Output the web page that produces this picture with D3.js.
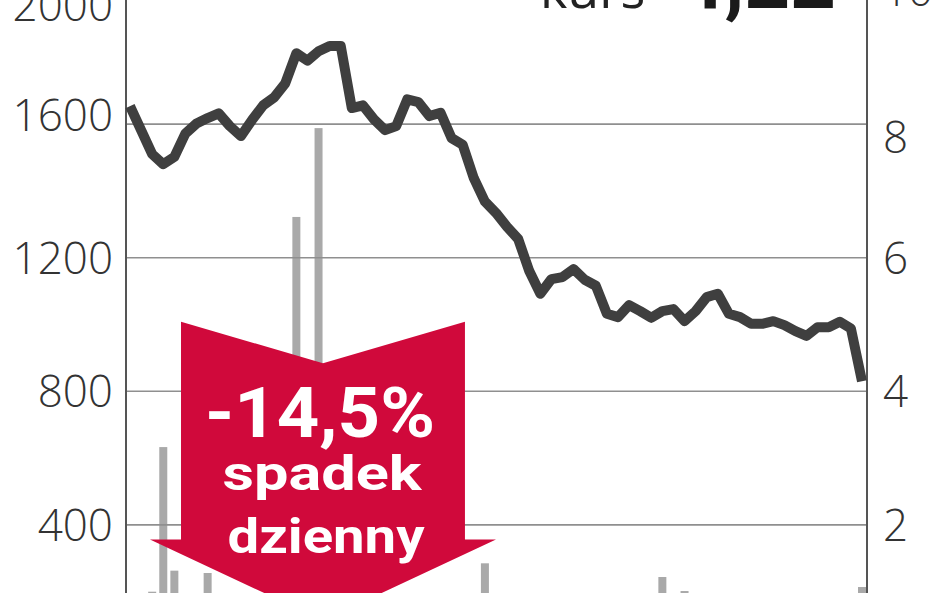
<!DOCTYPE html>
<html lang="pl">
<head>
    <meta charset="UTF-8">
    <title>Kurs i obroty</title>
    <script src="https://d3js.org/d3.v7.min.js"></script>
    <style>
        body { margin: 0; background: #fff; }
        svg { display: block; }
    </style>
</head>
<body>
<svg id="chart" width="948" height="593"></svg>

<script>
    // kurs (zl) - sesje od lewej do prawej
    const price = [
        8.27, 7.91, 7.55, 7.40, 7.51, 7.86, 8.01, 8.09, 8.16, 7.97,
        7.82, 8.06, 8.28, 8.40, 8.61, 9.06, 8.95, 9.09, 9.17, 9.17,
        8.24, 8.28, 8.07, 7.91, 7.97, 8.37, 8.33, 8.12, 8.17, 7.79,
        7.69, 7.19, 6.84, 6.67, 6.46, 6.28, 5.80, 5.46, 5.68, 5.71,
        5.83, 5.67, 5.58, 5.16, 5.11, 5.29, 5.20, 5.10, 5.20, 5.23,
        5.05, 5.20, 5.41, 5.46, 5.16, 5.11, 5.01, 5.01, 5.05, 4.99,
        4.90, 4.83, 4.96, 4.96, 5.04, 4.94, 4.15
    ];
    // obroty (tys. szt.)
    const volume = [
        120, 110, 200, 633, 263, 130, 120, 256, 110, 120,
        130, 120, 110, 140, 150, 1322, 160, 1588, 150, 140,
        130, 120, 110, 120, 130, 120, 110, 120, 130, 120,
        110, 120, 285, 130, 120, 110, 120, 130, 120, 110,
        120, 130, 120, 110, 120, 130, 120, 110, 244, 120,
        202, 110, 120, 130, 120, 110, 120, 130, 120, 110,
        120, 130, 120, 110, 120, 130, 214
    ];
    const volTicks = [400, 800, 1200, 1600, 2000];
    const priceTicks = [2, 4, 6, 8, 10];
    const title = "kurs";
    const lastPrice = "4,22";
    const badge = ["-14,5%", "spadek", "dzienny"];

    const H = 593;
    const plotLeft = 126, plotRight = 867;
    const svg = d3.select("#chart");

    const x = d3.scaleLinear().domain([0, price.length - 1]).range([130, 862]);
    const yVol = d3.scaleLinear().domain([0, 2000]).range([658.5, -9.5]);
    const yPrice = d3.scaleLinear().domain([0, 10]).range([658.5, -9.5]);

    // przesuniecia etykiet jak w oryginale
    const nudgeLeft = {2000: 15, 1600: -9};
    const nudgeRight = {8: 13};

    // slupki obrotow
    svg.append("g")
        .selectAll("rect")
        .data(volume)
        .enter().append("rect")
        .attr("x", (d, i) => x(i) - 4)
        .attr("y", d => yVol(d))
        .attr("width", 8)
        .attr("height", d => yVol(0) - yVol(d))
        .attr("fill", "#a9a9a9");

    // linie siatki
    svg.append("g")
        .selectAll("line")
        .data(priceTicks)
        .enter().append("line")
        .attr("x1", plotLeft).attr("x2", plotRight)
        .attr("y1", d => yPrice(d)).attr("y2", d => yPrice(d))
        .attr("stroke", "#8f8f8f")
        .attr("stroke-width", 1.6);

    // osie
    [plotLeft, plotRight].forEach(px => {
        svg.append("line")
            .attr("x1", px).attr("x2", px)
            .attr("y1", 0).attr("y2", H)
            .attr("stroke", "#555")
            .attr("stroke-width", 2);
    });

    // kurs
    const line = d3.line()
        .x((d, i) => x(i))
        .y(d => yPrice(d));

    svg.append("path")
        .datum(price)
        .attr("d", line)
        .attr("fill", "none")
        .attr("stroke", "#3f3f3f")
        .attr("stroke-width", 10)
        .attr("stroke-linejoin", "round");

    // etykiety osi
    const axisFont = "'Open Sans', 'DejaVu Sans', sans-serif";
    svg.append("g")
        .selectAll("text")
        .data(volTicks)
        .enter().append("text")
        .attr("x", 113)
        .attr("y", d => yVol(d) + (nudgeLeft[d] || 0))
        .attr("dy", "0.36em")
        .attr("text-anchor", "end")
        .style("font-family", axisFont)
        .style("font-weight", 300)
        .style("font-size", "44px")
        .style("fill", "#333")
        .text(d => d);

    svg.append("g")
        .selectAll("text")
        .data(priceTicks)
        .enter().append("text")
        .attr("x", 883)
        .attr("y", d => yPrice(d) + (nudgeRight[d] || 0))
        .attr("dy", "0.36em")
        .attr("text-anchor", "start")
        .style("font-family", axisFont)
        .style("font-weight", 300)
        .style("font-size", "44px")
        .style("fill", "#333")
        .text(d => d);

    // tytul (uciety u gory)
    svg.append("text")
        .attr("x", 540).attr("y", 8)
        .style("font-family", axisFont)
        .style("font-size", "52px")
        .style("fill", "#222")
        .text(title);
    svg.append("text")
        .attr("x", 836).attr("y", 8)
        .attr("text-anchor", "end")
        .style("font-family", "Roboto, sans-serif")
        .style("font-weight", 700)
        .style("font-size", "80px")
        .style("fill", "#1a1a1a")
        .text(lastPrice);

    // czerwona strzalka
    const cx = x(17.4);
    const arrowTop = yPrice(5.04), notch = yPrice(4.42);
    const headY = yPrice(1.78), tipY = yPrice(0.57);
    const bodyL = x(4.6), bodyR = x(30.2);
    const wingL = x(1.8), wingR = x(33.0);
    const arrow = d3.path();
    arrow.moveTo(bodyL, arrowTop);
    arrow.lineTo(cx, notch);
    arrow.lineTo(bodyR, arrowTop);
    arrow.lineTo(bodyR, headY);
    arrow.lineTo(wingR, headY);
    arrow.lineTo(cx, tipY);
    arrow.lineTo(wingL, headY);
    arrow.lineTo(bodyL, headY);
    arrow.closePath();
    svg.append("path")
        .attr("d", arrow.toString())
        .attr("fill", "#d0093b");

    const badgeFont = "Roboto, 'Liberation Sans', sans-serif";
    const badgeRows = [
        {t: badge[0], y: 437, size: 70, w: 230, cx: 320},
        {t: badge[1], y: 490, size: 48, w: 199, cx: 322},
        {t: badge[2], y: 553, size: 49, w: 197, cx: 326}
    ];
    svg.append("g")
        .selectAll("text")
        .data(badgeRows)
        .enter().append("text")
        .attr("x", d => d.cx - d.w / 2)
        .attr("y", d => d.y)
        .attr("textLength", d => d.w)
        .attr("lengthAdjust", "spacingAndGlyphs")
        .style("font-family", badgeFont)
        .style("font-weight", 700)
        .style("font-size", d => d.size + "px")
        .style("fill", "#fff")
        .text(d => d.t);
</script>
</body>
</html>
